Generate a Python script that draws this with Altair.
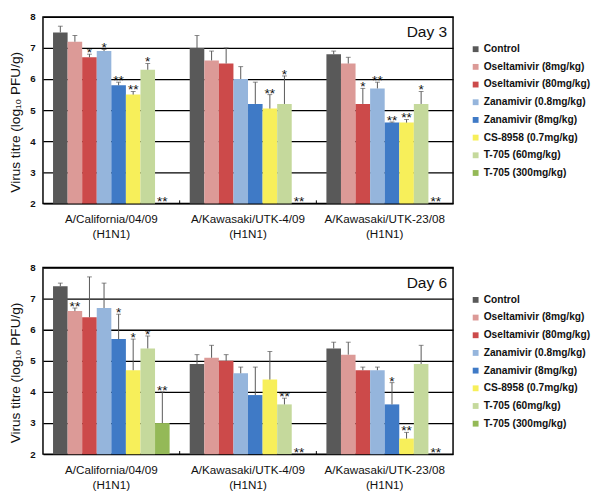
import altair as alt
import pandas as pd

groups = ["A/California/04/09|(H1N1)", "A/Kawasaki/UTK-4/09|(H1N1)", "A/Kawasaki/UTK-23/08|(H1N1)"]
treatments = ["Control", "Oseltamivir (8mg/kg)", "Oseltamivir (80mg/kg)", "Zanamivir (0.8mg/kg)",
              "Zanamivir (8mg/kg)", "CS-8958 (0.7mg/kg)", "T-705 (60mg/kg)", "T-705 (300mg/kg)"]
colors = ["#595959", "#dc9a97", "#cc4a4a", "#95b5dc", "#3f7ac6", "#f7ef5a", "#c5d99c", "#94b957"]
y_ticks = [2, 3, 4, 5, 6, 7, 8]

# Day 3
d3_values = [[7.5, 7.2, 6.7, 6.9, 5.8, 5.5, 6.3, 2.0],
             [7.0, 6.6, 6.5, 6.0, 5.2, 5.05, 5.2, 2.0],
             [6.8, 6.5, 5.2, 5.7, 4.6, 4.6, 5.2, 2.0]]
d3_err = [[7.7, 7.4, 6.8, 6.95, 5.9, 5.6, 6.5, 2.0],
          [7.4, 6.9, 7.0, 6.4, 5.9, 5.5, 6.1, 2.0],
          [6.9, 6.7, 5.7, 5.9, 4.62, 4.7, 5.6, 2.0]]
d3_sig = [["", "", "*", "*", "**", "**", "*", "**"],
          ["", "", "", "", "", "**", "*", "**"],
          ["", "", "*", "**", "**", "**", "*", "**"]]

# Day 6
d6_values = [[7.4, 6.6, 6.4, 6.7, 5.7, 4.7, 5.4, 3.0],
             [4.9, 5.1, 5.0, 4.6, 3.9, 4.4, 3.6, 2.0],
             [5.4, 5.2, 4.7, 4.7, 3.6, 2.5, 4.9, 2.0]]
d6_err = [[7.5, 6.7, 7.7, 7.5, 6.5, 5.7, 5.8, 4.0],
          [5.2, 5.5, 5.2, 4.8, 4.8, 5.3, 3.8, 2.0],
          [5.6, 5.6, 4.8, 4.8, 4.3, 2.7, 5.5, 2.0]]
d6_sig = [["", "**", "", "", "*", "*", "*", "**"],
          ["", "", "", "", "", "", "**", "**"],
          ["", "", "", "", "*", "**", "", "**"]]

FONT = "Liberation Sans"
W, H = 422, 192


def make_df(values, errs, sigs):
    rows = []
    for gi, g in enumerate(groups):
        for ti, t in enumerate(treatments):
            v = values[gi][ti]
            e = errs[gi][ti]
            rows.append({"group": g, "treatment": t, "value": v, "err": e,
                         "top": max(v, e), "sig": sigs[gi][ti]})
    return pd.DataFrame(rows)


Y_AXIS = alt.Axis(title="Virus titre (log₁₀ PFU/g)", values=y_ticks,
                  labelOverlap=False, tickCount=7,
                  grid=True, gridColor="#000", gridWidth=1.3, gridOpacity=1,
                  ticks=False, domain=False, labelFont=FONT, labelFontSize=10,
                  labelFontWeight="bold", labelColor="#111", labelPadding=8,
                  titleFont=FONT, titleFontSize=14, titleFontWeight="normal",
                  titleColor="#111", titleAngle=-90, titleX=-28, titleY=108,
                  titleBaseline="middle", titleAlign="center")
YSCALE = alt.Scale(domain=[2, 8], nice=False, zero=False)


def yenc(field):
    return alt.Y(field, type="quantitative", scale=YSCALE, axis=Y_AXIS)


def panel(df, day_label):
    base = alt.Chart(df)
    x = alt.X("group:N", sort=groups, scale=alt.Scale(paddingInner=0, paddingOuter=0),
              axis=alt.Axis(title=None, labelAngle=0, ticks=False, domain=False,
                            labelExpr="split(datum.label, '|')", labelFontSize=12,
                            labelFont=FONT, labelColor="#111", labelPadding=11,
                            labelLineHeight=15))
    xo = alt.XOffset("treatment:N", sort=treatments,
                     scale=alt.Scale(paddingInner=0, paddingOuter=0.69))
    color = alt.Color("treatment:N", sort=treatments,
                      scale=alt.Scale(domain=treatments, range=colors),
                      legend=alt.Legend(title=None, orient="none", legendX=440, legendY=28,
                                        symbolType="square", symbolSize=36,
                                        symbolStrokeWidth=0, labelFont=FONT,
                                        labelFontSize=10.5, labelFontWeight="bold",
                                        labelColor="#111", rowPadding=7.2, labelOffset=3))
    bars = base.mark_bar().encode(x=x, xOffset=xo, y=yenc("value"), y2=alt.datum(2),
                                  color=color)
    eb = base.transform_filter("datum.err > datum.value")
    rule = eb.mark_rule(color="#555", strokeWidth=1).encode(
        x=x, xOffset=xo, y=yenc("value"), y2="err:Q")
    cap = eb.mark_tick(color="#555", thickness=1, size=5).encode(
        x=x, xOffset=xo, y=yenc("err"))
    stars = base.transform_filter("datum.sig != ''").mark_text(
        font=FONT, fontSize=14, baseline="alphabetic", dy=3, color="#111").encode(
        x=x, xOffset=xo, y=yenc("top"), text="sig:N")
    seps = alt.Chart(pd.DataFrame({"group": groups[1:], "lo": [2, 2], "hi": [2.1, 2.1]})).mark_rule(
        color="#000", strokeWidth=1).encode(
        x=alt.X("group:N", sort=groups, bandPosition=0),
        y=yenc("lo"), y2="hi:Q")
    day = alt.Chart(pd.DataFrame({"t": [day_label]})).mark_text(
        font=FONT, fontSize=16, align="right", baseline="alphabetic", color="#111").encode(
        x=alt.value(W - 6), y=alt.value(21), text="t:N")
    return alt.layer(bars, rule, cap, stars, seps, day).properties(width=W, height=H)


top = panel(make_df(d3_values, d3_err, d3_sig), "Day 3")
bottom = panel(make_df(d6_values, d6_err, d6_sig), "Day 6")

chart = alt.vconcat(top, bottom, spacing=22).resolve_scale(color="independent").resolve_legend(
    color="independent").configure_view(stroke="#000", strokeWidth=1.5).properties(
    padding={"left": 0, "top": -4, "right": 0, "bottom": 0})

chart.save("out.html", embed_options={"renderer": "svg", "actions": False})
